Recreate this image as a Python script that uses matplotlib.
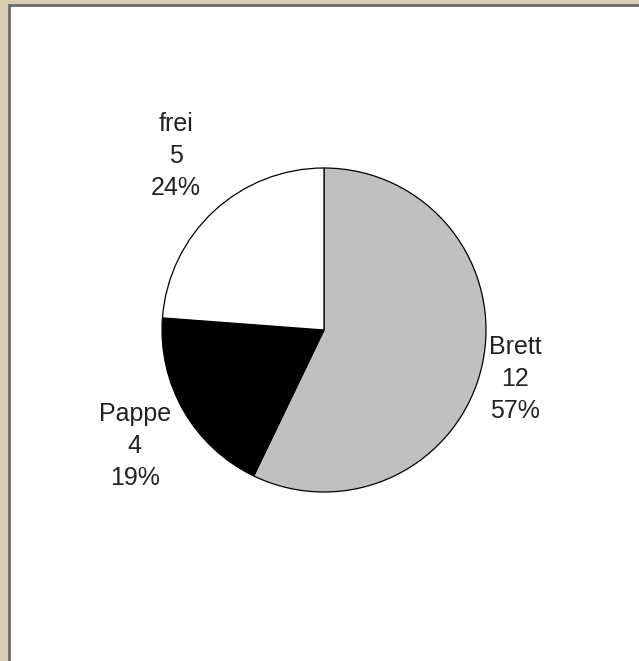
import numpy as np
import matplotlib
matplotlib.use("Agg")
import matplotlib.pyplot as plt
from matplotlib.patches import Rectangle

plt.rcParams['font.family'] = ['Liberation Sans', 'DejaVu Sans']

labels = ["Brett", "Pappe", "frei"]
counts = [12, 4, 5]
colors = ["#c0c0c0", "#000000", "#ffffff"]
label_dist = [1.22, 1.37, 1.41]
label_turn = [-1.5, 1.5, -2.4]

W, H = 639, 661
fig = plt.figure(figsize=(W / 100, H / 100), dpi=100, facecolor="#d9d0b4")
ax = fig.add_axes([0, 0, 1, 1])

cx, cy, r = 324, H - 330, 162
wedges, _ = ax.pie(counts, colors=colors, startangle=90, counterclock=False,
                   center=(cx, cy), radius=r, frame=True,
                   wedgeprops=dict(edgecolor="black", linewidth=0.9))
ax.set_xlim(0, W)
ax.set_ylim(0, H)
ax.axis("off")

# white panel (border only visible on left and top)
ax.add_patch(Rectangle((9, -20), W + 20, H - 5 + 20, facecolor="white",
                       edgecolor="#6a6a6a", linewidth=2, zorder=0,
                       clip_on=False))

total = sum(counts)
for w, lab, n, d, t in zip(wedges, labels, counts, label_dist, label_turn):
    ang = np.deg2rad((w.theta1 + w.theta2) / 2 + t)
    x = cx + d * r * np.cos(ang)
    y = cy + d * r * np.sin(ang)
    txt = f"{lab}\n{n}\n{round(100 * n / total)}%"
    ax.text(x, y, txt, ha="center", va="center", multialignment="center",
            fontsize=18, color="#222222", linespacing=1.42)

fig.savefig("out.png", dpi=100, facecolor=fig.get_facecolor())
